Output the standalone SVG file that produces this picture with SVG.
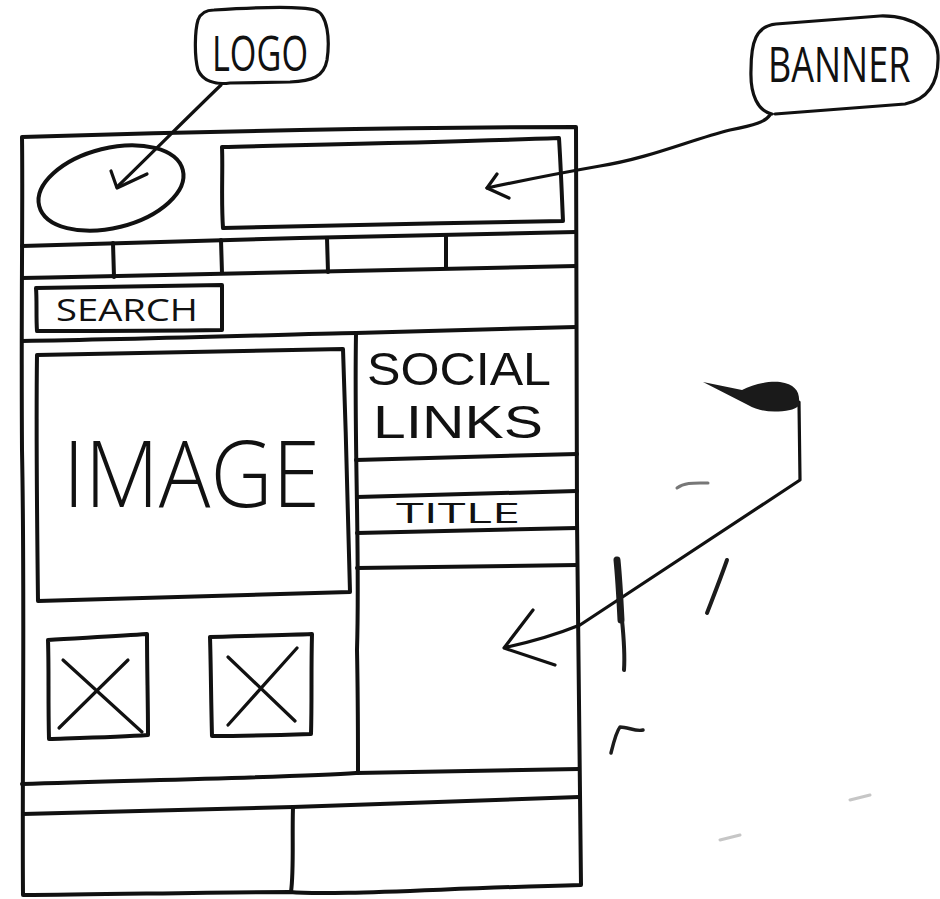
<svg xmlns="http://www.w3.org/2000/svg" width="940" height="899" viewBox="0 0 940 899">
<style>
.ln{fill:none;stroke:#111;stroke-width:4;stroke-linecap:round;stroke-linejoin:round}
.th{stroke-width:3.2}
.tx{font-family:"Open Sans","Liberation Sans",sans-serif;font-weight:400;fill:#111}
.lt{font-weight:300}
.ls{font-family:"Liberation Sans","Open Sans",sans-serif}
.sm{fill:none;stroke:#1c1c1c;stroke-linecap:round;stroke-linejoin:round}
</style>
<rect width="940" height="899" fill="#fff"/>

<g id="page-frame">
<path class="ln" d="M22,137 C120,134 200,132 300,130 C400,128 500,127 576,127 C577,250 576,400 577,520 C578,650 579,770 581,885 C450,888 330,896 290,892 C200,892 100,895 23,895 C22,760 25,600 22,450 C21,300 23,200 22,137 Z"/>
</g>

<g id="logo-area">
<ellipse class="ln" cx="111" cy="188" rx="74" ry="40" transform="rotate(-14 111 188)"/>
</g>

<g id="banner-area">
<path class="ln" d="M222,147 C300,145 450,142 559,138 C561,170 562,200 563,221 C450,223 300,226 223,228 C221,200 223,170 222,147 Z"/>
</g>

<g id="nav-bar">
<path class="ln" d="M22,246 C100,243 200,240 300,238 C400,236 500,234 576,232"/>
<path class="ln" d="M22,278 C120,276 220,273 300,272 C400,270 500,268 576,266"/>
<path class="ln" d="M113,243 L114,277 M221,240 L222,273 M327,238 L328,272 M446,236 L446,268"/>
</g>

<g id="search">
<path class="ln" d="M36,288 C100,287 160,286 222,285 C222,300 222,315 222,330 C160,331 100,331 37,331 C36,316 37,300 36,288 Z"/>
<text class="tx" x="56" y="321" font-size="31" textLength="142" lengthAdjust="spacingAndGlyphs">SEARCH</text>
</g>

<g id="section-divider">
<path class="ln" d="M22,341 C150,339 300,334 356,333 C450,331 520,329 576,327"/>
<path class="ln" d="M356,334 C354,450 360,550 357,650 C358,700 358,740 358,773"/>
</g>

<g id="image">
<path class="ln" d="M37,355 C150,352 250,350 343,349 C346,430 348,520 350,592 C250,594 150,597 38,601 C37,520 36,430 37,355 Z"/>
<text class="tx lt" x="63" y="507" font-size="93" textLength="257" lengthAdjust="spacingAndGlyphs">IMAGE</text>
</g>

<g id="social-links">
<text class="tx ls" font-size="47"><tspan x="367" y="385" textLength="184" lengthAdjust="spacingAndGlyphs">SOCIAL</tspan><tspan x="373" y="438" textLength="170" lengthAdjust="spacingAndGlyphs">LINKS</tspan></text>
<path class="ln" d="M356,460 C450,458 520,456 577,454"/>
</g>

<g id="title">
<path class="ln" d="M357,497 C450,495 520,493 577,491"/>
<text class="tx" x="396" y="523" font-size="28" textLength="124" lengthAdjust="spacingAndGlyphs">TITLE</text>
<path class="ln" d="M357,533 C450,531 520,529 577,528"/>
<path class="ln" d="M357,568 C450,567 520,566 577,565"/>
</g>

<g id="thumb-1">
<path class="ln" d="M48,640 C80,638 120,636 147,634 C147,670 148,700 148,735 C120,737 80,738 49,739 C48,700 49,670 48,640 Z"/>
<path class="ln th" d="M63,660 L142,732 M128,660 L59,728"/>
</g>

<g id="thumb-2">
<path class="ln" d="M210,637 C250,636 290,635 312,634 C311,670 312,700 311,734 C280,735 240,736 212,736 C211,700 211,670 210,637 Z"/>
<path class="ln th" d="M228,657 L295,721 M297,648 L228,725"/>
</g>

<g id="footer">
<path class="ln" d="M22,784 C150,780 300,777 356,773 C450,772 520,770 579,769"/>
<path class="ln" d="M23,814 C150,811 250,808 293,807 C400,804 500,800 579,797"/>
<path class="ln" d="M293,807 C292,840 294,870 291,892"/>
</g>

<g id="logo-label">
<path class="ln th" d="M214,10 C260,7 300,6 315,10 C328,14 330,40 327,60 C324,77 312,81 290,82 L230,83 C215,85 203,81 198,70 C194,55 195,30 198,20 C201,12 208,10 214,10 Z"/>
<text class="tx" x="212" y="71" font-size="50" textLength="96" lengthAdjust="spacingAndGlyphs">LOGO</text>
</g>

<g id="banner-label">
<path class="ln th" d="M772,114 C758,111 750,95 751,70 C751,42 756,26 776,24 L880,16 C917,15 937,35 938,55 C939,80 930,99 905,104 L775,114"/>
<text class="tx" transform="translate(768,82) scale(0.72,1)" x="0" y="0" font-size="50">BANNER</text>
</g>

<g id="connectors">
<path class="ln th" d="M221,85 C195,110 165,140 117,187"/>
<path class="ln th" d="M111,171 L117,188 L147,174"/>
<path class="ln th" d="M770,115 C765,122 755,125 730,130 C690,140 650,158 600,166 C560,173 520,181 487,188"/>
<path class="ln th" d="M497,174 L487,188 L509,198"/>
<path class="ln th" d="M507,647 C540,640 560,633 580,625 L800,480 L799,402"/>
<path class="ln th" d="M533,610 L504,648 L555,665"/>
<path fill="#1a1a1a" d="M799,402 C800,392 795,384 780,382 C765,381 752,385 742,390 L703,382 L748,405 C760,412 775,413 790,410 C797,408 800,406 799,402 Z"/>
</g>

<g id="smudges">
<path class="sm" stroke-width="7" d="M617,560 C619,580 620,600 621,620"/>
<path class="sm" stroke-width="4" d="M622,620 C624,640 625,655 624,670"/>
<path class="sm" stroke-width="4" d="M727,560 C720,580 712,600 707,613"/>
<path class="sm" stroke-width="3" opacity="0.6" d="M677,488 C685,482 695,483 708,483"/>
<path class="sm" stroke-width="3.5" d="M611,753 C613,745 616,732 620,727 C628,727 636,732 643,730"/>
<path class="sm" stroke-width="3" opacity="0.25" d="M720,840 L740,835 M850,800 L870,795"/>
</g>
</svg>
